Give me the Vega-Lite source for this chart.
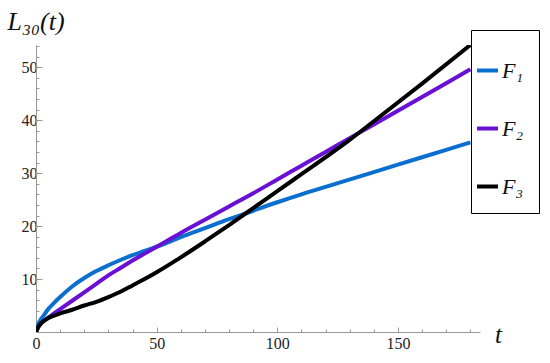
{
  "$schema": "https://vega.github.io/schema/vega-lite/v6.json",
  "width": 444,
  "height": 287,
  "autosize": {"type": "none"},
  "padding": {"left": 36, "top": 45, "right": 70, "bottom": 31},
  "background": "white",
  "config": {"view": {"stroke": null}, "font": "Liberation Serif"},
  "data": {"values": [
    {"t": 0, "v": 0, "s": "F₁"}, {"t": 1, "v": 1.5, "s": "F₁"}, {"t": 2, "v": 2.4, "s": "F₁"}, {"t": 3, "v": 3.0, "s": "F₁"}, {"t": 5, "v": 4.3, "s": "F₁"}, {"t": 7.5, "v": 5.5, "s": "F₁"}, {"t": 10, "v": 6.6, "s": "F₁"}, {"t": 15, "v": 8.6, "s": "F₁"}, {"t": 20, "v": 10.2, "s": "F₁"}, {"t": 25, "v": 11.5, "s": "F₁"}, {"t": 30, "v": 12.6, "s": "F₁"}, {"t": 35, "v": 13.6, "s": "F₁"}, {"t": 40, "v": 14.5, "s": "F₁"}, {"t": 45, "v": 15.3, "s": "F₁"}, {"t": 50, "v": 16.1, "s": "F₁"}, {"t": 60, "v": 17.9, "s": "F₁"}, {"t": 70, "v": 19.6, "s": "F₁"}, {"t": 80, "v": 21.3, "s": "F₁"}, {"t": 90, "v": 22.9, "s": "F₁"}, {"t": 100, "v": 24.5, "s": "F₁"}, {"t": 110, "v": 26.0, "s": "F₁"}, {"t": 120, "v": 27.4, "s": "F₁"}, {"t": 140, "v": 30.2, "s": "F₁"}, {"t": 160, "v": 33.0, "s": "F₁"}, {"t": 180, "v": 35.8, "s": "F₁"},
    {"t": 0, "v": 0, "s": "F₂"}, {"t": 1, "v": 1.0, "s": "F₂"}, {"t": 2, "v": 1.6, "s": "F₂"}, {"t": 3, "v": 2.0, "s": "F₂"}, {"t": 5, "v": 2.7, "s": "F₂"}, {"t": 7.5, "v": 3.5, "s": "F₂"}, {"t": 10, "v": 4.3, "s": "F₂"}, {"t": 15, "v": 5.9, "s": "F₂"}, {"t": 20, "v": 7.5, "s": "F₂"}, {"t": 25, "v": 9.1, "s": "F₂"}, {"t": 30, "v": 10.7, "s": "F₂"}, {"t": 35, "v": 12.1, "s": "F₂"}, {"t": 40, "v": 13.5, "s": "F₂"}, {"t": 45, "v": 14.8, "s": "F₂"}, {"t": 50, "v": 16.1, "s": "F₂"}, {"t": 60, "v": 18.7, "s": "F₂"}, {"t": 70, "v": 21.2, "s": "F₂"}, {"t": 80, "v": 23.7, "s": "F₂"}, {"t": 90, "v": 26.2, "s": "F₂"}, {"t": 100, "v": 28.8, "s": "F₂"}, {"t": 110, "v": 31.4, "s": "F₂"}, {"t": 120, "v": 34.0, "s": "F₂"}, {"t": 130, "v": 36.6, "s": "F₂"}, {"t": 140, "v": 39.2, "s": "F₂"}, {"t": 160, "v": 44.4, "s": "F₂"}, {"t": 180, "v": 49.6, "s": "F₂"},
    {"t": 0, "v": 0, "s": "F₃"}, {"t": 1, "v": 1.0, "s": "F₃"}, {"t": 2, "v": 1.6, "s": "F₃"}, {"t": 3, "v": 2.0, "s": "F₃"}, {"t": 5, "v": 2.6, "s": "F₃"}, {"t": 7.5, "v": 3.1, "s": "F₃"}, {"t": 10, "v": 3.5, "s": "F₃"}, {"t": 15, "v": 4.2, "s": "F₃"}, {"t": 20, "v": 5.0, "s": "F₃"}, {"t": 25, "v": 5.7, "s": "F₃"}, {"t": 30, "v": 6.6, "s": "F₃"}, {"t": 35, "v": 7.6, "s": "F₃"}, {"t": 40, "v": 8.8, "s": "F₃"}, {"t": 45, "v": 10.0, "s": "F₃"}, {"t": 50, "v": 11.3, "s": "F₃"}, {"t": 60, "v": 14.1, "s": "F₃"}, {"t": 70, "v": 17.1, "s": "F₃"}, {"t": 80, "v": 20.2, "s": "F₃"}, {"t": 90, "v": 23.4, "s": "F₃"}, {"t": 100, "v": 26.6, "s": "F₃"}, {"t": 110, "v": 29.8, "s": "F₃"}, {"t": 120, "v": 33.0, "s": "F₃"}, {"t": 130, "v": 36.3, "s": "F₃"}, {"t": 140, "v": 39.8, "s": "F₃"}, {"t": 160, "v": 46.9, "s": "F₃"}, {"t": 180, "v": 54.2, "s": "F₃"}
  ]},
  "mark": {"type": "line", "strokeWidth": 4, "clip": true, "interpolate": "monotone"},
  "encoding": {
    "x": {
      "field": "t", "type": "quantitative",
      "scale": {"domain": [0, 184], "nice": false, "zero": false},
      "axis": {
        "values": [0, 10, 20, 30, 40, 50, 60, 70, 80, 90, 100, 110, 120, 130, 140, 150, 160, 170, 180],
        "labelExpr": "datum.value % 50 === 0 ? datum.label : ''",
        "tickSize": {"condition": {"test": "datum.value % 50 === 0", "value": -5}, "value": -3},
        "grid": false, "domainColor": "#999999", "tickColor": "#999999",
        "labelFont": "Liberation Serif", "labelFontSize": 16, "labelColor": "#222222", "labelPadding": 8,
        "labelFlush": false, "labelOverlap": false,
        "title": "t", "titleFont": "Liberation Serif", "titleFontStyle": "italic", "titleFontWeight": "normal",
        "titleFontSize": 25, "titleColor": "#111111",
        "titleX": 462, "titleY": 10, "titleAlign": "center", "titleBaseline": "alphabetic"
      }
    },
    "y": {
      "field": "v", "type": "quantitative",
      "scale": {"domain": [0, 54.2], "nice": false, "zero": false},
      "axis": {
        "values": [0, 2, 4, 6, 8, 10, 12, 14, 16, 18, 20, 22, 24, 26, 28, 30, 32, 34, 36, 38, 40, 42, 44, 46, 48, 50, 52, 54],
        "labelExpr": "datum.value % 10 === 0 && datum.value > 0 ? datum.label : ''",
        "tickSize": {"condition": {"test": "datum.value % 10 === 0", "value": -6}, "value": -3},
        "grid": false, "domainColor": "#999999", "tickColor": "#999999",
        "labelFont": "Liberation Serif", "labelFontSize": 16, "labelColor": "#222222", "labelPadding": 5,
        "labelFlush": false, "labelOverlap": false,
        "title": "L₃₀(t)", "titleFont": "Liberation Serif", "titleFontStyle": "italic", "titleFontWeight": "normal",
        "titleFontSize": 26, "titleColor": "#111111", "titleAngle": 0,
        "titleX": -29, "titleY": -16, "titleAlign": "left", "titleBaseline": "alphabetic"
      }
    },
    "color": {
      "field": "s", "type": "nominal",
      "scale": {"domain": ["F₁", "F₂", "F₃"], "range": ["#0b6fd0", "#6a10d4", "#000000"]},
      "legend": {
        "orient": "none", "legendX": 435, "legendY": -15,
        "title": " ", "titleFontSize": 4, "titlePadding": 9,
        "padding": 15, "strokeColor": "black", "fillColor": "white",
        "symbolType": "stroke", "symbolSize": 441, "symbolStrokeWidth": 4, "symbolOffset": -11,
        "labelFontSize": 22, "labelFont": "Liberation Serif", "labelFontStyle": "italic", "labelColor": "#111111",
        "labelOffset": 2, "rowPadding": 34, "labelLimit": 100
      }
    }
  }
}
